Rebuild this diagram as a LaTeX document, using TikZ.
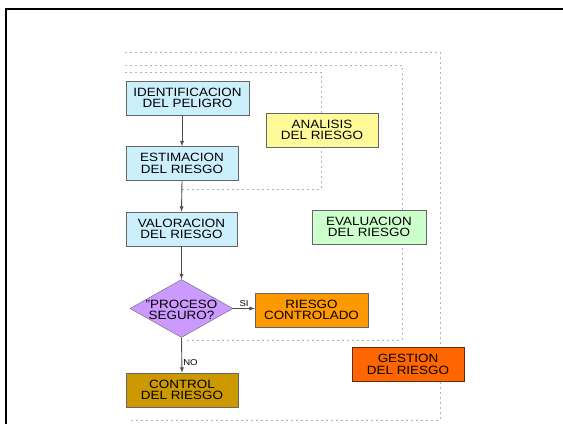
\documentclass[tikz,border=0pt]{standalone}
\usepackage{fontspec}
\setmainfont{Liberation Sans}[FakeStretch=1.12]
\usetikzlibrary{shapes.geometric}
\definecolor{lila}{HTML}{CC99FF}
\definecolor{naranja}{HTML}{FF9900}
\definecolor{ocre}{HTML}{CC9900}
\definecolor{rojizo}{HTML}{FF6600}

\begin{document}
\begin{tikzpicture}[x=1pt,y=-1pt,
    box/.style={draw=gray!80!black, rectangle, inner sep=0pt, align=center,
      minimum width=112, minimum height=34, font=\fontsize{12}{11.5}\selectfont},
    flecha/.style={draw=black!70, line width=0.9pt, -latex},
    grupo/.style={draw=gray!60, line width=0.8pt, dash pattern=on 2pt off 3pt},
    etiq/.style={font=\fontsize{8.5}{8.5}\selectfont, inner sep=1pt}]
      \useasboundingbox (0,0) rectangle (563,424);
      \draw [line width=2pt] (6,424) -- (6,9) -- (563,9);

      % dotted group lines
      \draw [grupo] (125,52) -- (440,52) -- (440,420) -- (128,420);
      \draw [grupo] (125,65) -- (402,65) -- (402,340) -- (186,340);
      \draw [grupo] (125,72) -- (321,72) -- (321,189) -- (182,189);

      \node [box, fill=cyan!20, minimum width=123] (ident) at (187.5,98) {IDENTIFICACION\\DEL PELIGRO};
      \node [box, fill=cyan!20] (estim) at (182,163.5) {ESTIMACION\\DEL RIESGO};
      \node [box, fill=cyan!20, minimum width=111] (valor) at (181.5,229) {VALORACION\\DEL RIESGO};
      \node [box, fill=yellow!40] (anal) at (322,130) {ANALISIS\\DEL RIESGO};
      \node [box, fill=green!20, minimum width=114] (evalu) at (369,227) {EVALUACION\\DEL RIESGO};

      \node [diamond, draw=gray!80!black, fill=lila, inner sep=0pt,
        minimum width=103, minimum height=58] (proc) at (181.5,308.5) {};
      \node [align=center, inner sep=0pt, font=\fontsize{12}{11.5}\selectfont] at (181.5,310) {"PROCESO\\SEGURO?};

      \node [box, fill=naranja, minimum width=113] (contr) at (311.5,310) {RIESGO\\CONTROLADO};
      \node [box, fill=ocre] (ctrl) at (182,390) {CONTROL\\DEL RIESGO};
      \node [box, fill=rojizo, draw=black!60!rojizo] (gest) at (408,364.5) {GESTION\\DEL RIESGO};

      \draw [flecha] (estim.north |- ident.south) -- (estim.north);
      \draw [flecha] (estim.south) -- (valor.north);
      \draw [flecha] (valor.south) -- (proc.north);
      \draw [flecha] (proc.east) -- (proc.east -| contr.west) node [etiq, midway, above] {SI};
      \draw [flecha] (proc.south) -- (ctrl.north) node [etiq, pos=0.7, right] {NO};
    \end{tikzpicture}
\end{document}
